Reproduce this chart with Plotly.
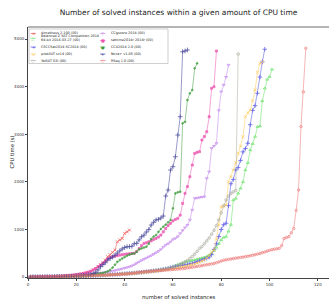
import plotly.graph_objects as go

# ---------------- data: CPU time (s) of the i-th solved instance ----------------
dimetheus_t = [1, 1, 2, 2, 3, 4, 5, 6, 7, 9, 11, 13, 15, 18, 21, 25, 29, 34, 40, 47,
               55, 64, 74, 86, 100, 120, 147, 180, 220, 260, 300, 360, 427, 470, 520, 567,
               742, 780, 812, 917, 950, 987]
balancedz_t = [1, 1, 2, 2, 3, 4, 4, 5, 6, 7, 8, 9, 10, 11, 12, 13, 14, 16, 17, 19,
               20, 22, 24, 26, 28, 30, 32, 34, 36, 39, 41, 44, 47, 50, 53, 56, 59, 62, 66, 70,
               74, 78, 82, 87, 92, 97, 103, 109, 115, 121, 128, 135, 142, 150, 158, 166, 175, 185, 200, 215,
               240, 260, 280, 300, 315, 330, 340, 350, 360, 375, 390, 400, 415, 430, 460, 500, 560, 620, 700, 780,
               830, 850, 960, 1100, 1617, 1650, 1757, 1863, 2000, 2248, 2400, 2668, 2800, 2950, 3158, 3170,
               3700, 3964, 4150, 4208, 4363]
csccsat_t = [1, 1, 2, 2, 3, 3, 4, 5, 5, 6, 7, 8, 9, 10, 11, 12, 13, 15, 16, 18,
             19, 21, 23, 25, 27, 29, 31, 33, 35, 38, 40, 43, 46, 49, 52, 55, 58, 62, 66, 70,
             74, 78, 82, 86, 90, 95, 100, 106, 112, 118, 124, 130, 137, 144, 152, 160, 170, 182, 196, 212,
             222, 232, 240, 248, 256, 265, 276, 290, 305, 322, 340, 357, 375, 395, 420, 470, 580, 700, 850, 1000,
             1100, 1130, 1500, 1960, 2050, 2250, 2300, 2450, 2630, 2700, 2810, 3200, 3500, 3600, 3860, 4200,
             4520, 4785]
probsat_t = [1, 1, 2, 2, 3, 3, 4, 4, 5, 6, 7, 8, 9, 10, 11, 12, 13, 14, 15, 17,
             18, 20, 21, 23, 25, 27, 29, 31, 33, 35, 37, 40, 42, 45, 48, 51, 54, 57, 60, 64,
             67, 71, 75, 79, 83, 88, 92, 97, 102, 108, 113, 119, 125, 131, 138, 145, 152, 160, 168, 176,
             185, 195, 205, 215, 226, 238, 250, 263, 277, 292, 310, 335, 357, 400, 450, 520, 567, 800, 1100, 1477,
             1490, 1512, 2000, 2107, 2248, 2400, 2598, 2750, 2948, 3368, 3450, 3508, 3700, 3928, 4300, 4488, 4520]
yalsat_t = [1, 1, 2, 2, 3, 3, 4, 5, 5, 6, 7, 8, 9, 10, 11, 12, 14, 15, 16, 18,
            19, 21, 23, 25, 27, 29, 31, 33, 35, 38, 40, 43, 46, 49, 52, 55, 58, 62, 66, 70,
            74, 78, 82, 86, 91, 96, 101, 107, 113, 119, 125, 132, 139, 147, 155, 164, 173, 183, 194, 206,
            220, 240, 265, 290, 320, 350, 390, 430, 480, 540, 602, 640, 700, 760, 820, 900, 980, 1080, 1200, 1350,
            1500, 1620, 1700, 1757, 1790, 1820, 4685]
ccgscore_t = [1, 2, 2, 3, 4, 5, 6, 7, 8, 10, 11, 13, 15, 17, 19, 21, 24, 27, 30, 33,
              37, 41, 45, 49, 54, 59, 64, 70, 76, 83, 90, 98, 106, 115, 125, 136, 148, 160, 173, 187,
              200, 215, 235, 260, 290, 320, 350, 375, 400, 425, 450, 480, 510, 540, 580, 630, 672, 700, 740, 790,
              812, 850, 917, 980, 1040, 1092, 1200, 1408, 1653, 1660, 1670, 1680, 1687, 2073, 2212, 2703, 2750, 2808,
              3500, 3893, 4033, 4200, 4454]
sattime_t = [1, 2, 3, 4, 5, 6, 7, 9, 10, 12, 14, 16, 18, 21, 24, 28, 32, 37, 43, 50,
             58, 67, 77, 90, 105, 125, 150, 180, 215, 250, 290, 330, 380, 410, 427, 440, 450, 460, 470, 480,
             485, 490, 495, 500, 540, 600, 660, 707, 720, 742, 760, 790, 812, 840, 882, 950, 1020, 1080, 1127, 1180,
             1210, 1233, 1300, 1548, 1757, 1900, 2107, 2353, 2598, 2620, 2633, 2878, 2950, 3053, 3368, 3964, 3998, 4748]
cca2014_t = [1, 1, 2, 3, 3, 4, 5, 6, 7, 8, 9, 10, 12, 13, 15, 17, 19, 21, 24, 27,
             30, 34, 38, 42, 47, 52, 58, 65, 72, 80, 85, 100, 120, 150, 200, 260, 320, 357, 390, 420,
             450, 470, 490, 497, 530, 580, 602, 620, 637, 700, 800, 850, 882, 950, 1010, 1057, 1100, 1150, 1197, 1443,
             1757, 1780, 1792, 3228, 3260, 3718, 3858, 3928, 4384, 4489]
nccap_t = [1, 1, 2, 2, 3, 4, 5, 6, 7, 8, 9, 10, 11, 13, 14, 16, 18, 20, 22, 25,
           28, 31, 35, 40, 46, 55, 70, 100, 150, 216, 260, 300, 357, 390, 420, 460, 504, 550, 590, 620,
           637, 640, 645, 700, 707, 780, 847, 880, 945, 1000, 1092, 1150, 1200, 1212, 1240, 1281, 1701, 1828, 2248, 2318,
           2528, 2983, 3368, 4733, 4748, 4769]
rseq_t = [1, 2, 2, 3, 4, 5, 6, 7, 8, 10, 11, 12, 14, 15, 16, 18, 19, 21, 22, 24,
          25, 27, 28, 30, 31, 33, 34, 36, 38, 40, 42, 44, 46, 48, 50, 53, 55, 58, 61, 64,
          67, 71, 76, 82, 90, 100, 108, 112, 116, 119, 123, 127, 131, 135, 139, 143, 147, 150, 153, 157,
          161, 165, 170, 176, 182, 190, 197, 205, 214, 222, 231, 240, 249, 258, 266, 275, 286, 300, 318, 337,
          352, 362, 371, 380, 389, 397, 404, 412, 419, 427, 436, 446, 457, 469, 482, 496, 511, 527, 545, 563,
          575, 586, 594, 602, 660, 810, 830, 850, 930, 1020, 1400, 1830, 3160, 3890, 4805]

left_names = ["dimetheus 2.100 (00)",
              "Balanced Z SAT Competition 2014<br>64-bit 2014-03-27 (00)",
              "CSCCSat2014 SC2014 (00)",
              "probSAT sc14 (00)",
              "YalSAT 03l (00)"]
right_names = ["CCgscore 2014 (00)",
               "sattime2014r 2014r (00)",
               "CCA2014 2.0 (00)",
               "Ncca+ v1.05 (00)",
               "RSeq 1.0 (00)"]
series = [dimetheus_t, balancedz_t, csccsat_t, probsat_t, yalsat_t,
          ccgscore_t, sattime_t, cca2014_t, nccap_t, rseq_t]
names = left_names + right_names

x_ticks = [0, 20, 40, 60, 80, 100, 120]
y_ticks = [0, 1000, 2000, 3000, 4000, 5000]

# ---------------- styles ----------------
colors = ["#f04848", "#5ae05a", "#4848e6", "#ffc850", "#aaaa9c",
          "#c080ee", "#ee50b0", "#3a9a3a", "#3a3a96", "#ee7070"]
symbols = ["x-thin-open", "triangle-up-open", "cross-thin-open", "x-thin-open", "circle-open",
           "triangle-down-open", "square", "circle", "cross-thin-open", "circle-open"]
msizes = [3, 2.6, 3.2, 3, 2.6, 2.6, 2, 1.8, 3.4, 2.4]
glyphs = ["×", "△", "+", "×", "○", "▽", "■", "●", "+", "○"]

FONT = "DejaVu Sans"
W, H = 329, 299
ML, MR, MT, MB = 28, 0, 27, 21
PW = W - ML - MR
PH = H - MT - MB
PB = H - MB


def px_x(px):
    return (px - ML) / PW


def px_y(py):
    return (PB - py) / PH


fig = go.Figure()
for t, nm, c, s, ms in zip(series, names, colors, symbols, msizes):
    fig.add_trace(go.Scatter(
        x=list(range(1, len(t) + 1)), y=t, mode="lines+markers", name=nm.replace("<br>", " "),
        line=dict(color=c, width=0.6),
        marker=dict(symbol=s, size=ms, color=c, line=dict(color=c, width=0.8)),
        opacity=0.85, showlegend=False))

shapes = []
annotations = []
# top spine
shapes.append(dict(type="line", xref="paper", yref="paper", x0=0, x1=1, y0=1, y1=1,
                   line=dict(color="#444444", width=0.8)))
# legend frame
shapes.append(dict(type="rect", xref="paper", yref="paper",
                   x0=px_x(29), x1=px_x(168), y0=px_y(29), y1=px_y(63.5),
                   line=dict(color="#b0b0b0", width=0.6), fillcolor="white", layer="above"))

left_rows = [33.5, 38.3, 47, 54, 60.5]
right_rows = [33.5, 40.5, 47, 54, 60.5]
cols = [(left_names, left_rows, 30.5, 36, 38.5), (right_names, right_rows, 100, 105.5, 109)]
k = 0
for nms, rows, sx0, sx1, tx in cols:
    for nm, ry in zip(nms, rows):
        c = colors[k]
        shapes.append(dict(type="line", xref="paper", yref="paper", layer="above",
                           x0=px_x(sx0), x1=px_x(sx1), y0=px_y(ry), y1=px_y(ry),
                           line=dict(color=c, width=0.6)))
        annotations.append(dict(xref="paper", yref="paper", x=px_x((sx0 + sx1) / 2), y=px_y(ry),
                                text=glyphs[k], showarrow=False, xanchor="center", yanchor="middle",
                                font=dict(family=FONT, size=4, color=c)))
        annotations.append(dict(xref="paper", yref="paper", x=px_x(tx), y=px_y(ry),
                                text=nm, showarrow=False, xanchor="left", yanchor="middle", align="left",
                                font=dict(family=FONT, size=3.4, color="#222222")))
        k += 1

# axis titles
annotations.append(dict(xref="paper", yref="paper", x=0.5, y=0, yanchor="top", yshift=-14,
                        text="number of solved instances", showarrow=False,
                        font=dict(family=FONT, size=5.3, color="#222222")))
annotations.append(dict(xref="paper", yref="paper", x=0, y=0.5, xanchor="center", xshift=-17,
                        text="CPU time (s)", textangle=-90, showarrow=False,
                        font=dict(family=FONT, size=5.3, color="#222222")))

fig.update_layout(
    width=W, height=H,
    margin=dict(l=ML, r=MR, t=MT, b=MB, pad=0),
    paper_bgcolor="white", plot_bgcolor="white",
    title=dict(text="Number of solved instances within a given amount of CPU time",
               x=0.5, xref="paper", y=1 - 12 / H, yref="container", yanchor="middle",
               font=dict(family=FONT, size=7.5, color="#222222")),
    xaxis=dict(range=[0, 124.6], tickvals=x_ticks, ticks="outside", ticklen=2, tickwidth=0.6,
               tickcolor="#444444", showline=True, linecolor="#444444", linewidth=0.8,
               showgrid=False, zeroline=False, tickfont=dict(family=FONT, size=4, color="#333333")),
    yaxis=dict(range=[-20, 5252], tickvals=y_ticks, ticks="outside", ticklen=2, tickwidth=0.6,
               tickcolor="#444444", showline=True, linecolor="#444444", linewidth=0.8,
               showgrid=False, zeroline=False, tickfont=dict(family=FONT, size=4, color="#333333")),
    shapes=shapes, annotations=annotations, showlegend=False,
)

fig.write_html("out.html", config={"displayModeBar": False},
               post_script="document.body.style.margin='0';document.body.style.overflow='hidden';")
